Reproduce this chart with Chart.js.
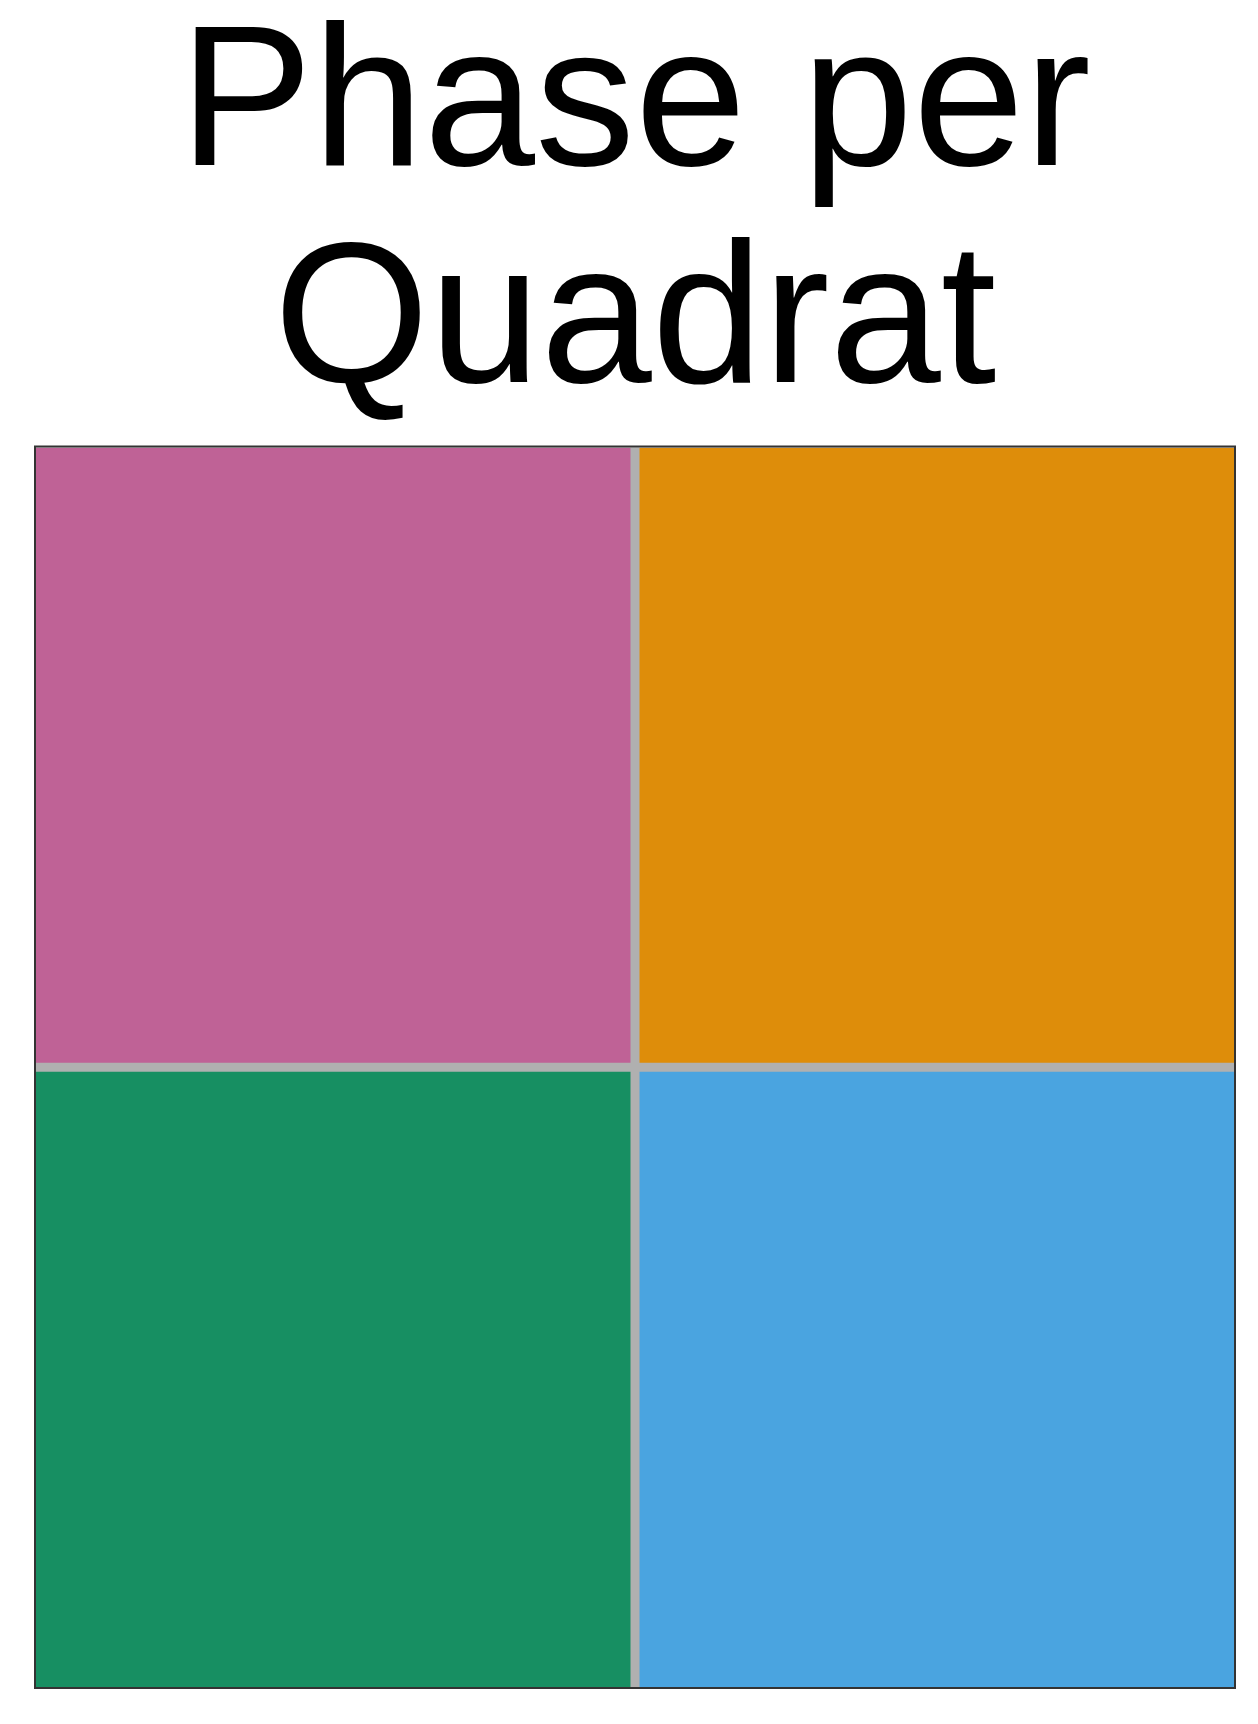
<!DOCTYPE html>
<html>
<head>
<meta charset="utf-8">
<script src="https://cdn.jsdelivr.net/npm/chart.js@4/dist/chart.umd.min.js"></script>
<style>
  html, body { margin: 0; padding: 0; background: #ffffff; }
  #wrap { width: 1258px; height: 1724px; position: relative; }
</style>
</head>
<body>
<div id="wrap"><canvas id="c"></canvas></div>
<script>
// ---- data ----
const titleLines = ['Phase per', 'Quadrat'];
const columns = ['links', 'rechts'];
const lowerRow = [1, 1];
const upperRow = [1, 1];
const lowerColors = ['#178F62', '#4AA4E0'];
const upperColors = ['#BF6296', '#DE8D0A'];
const gapColor = '#B0B0B0';
const frameColor = '#333333';

const half = 4.5;

const frame = {
  id: 'frame',
  beforeDatasetsDraw(chart) {
    const a = chart.chartArea, ctx = chart.ctx;
    ctx.save();
    ctx.fillStyle = gapColor;
    ctx.fillRect(a.left, a.top, a.right - a.left, a.bottom - a.top);
    ctx.restore();
  },
  afterDatasetsDraw(chart) {
    const a = chart.chartArea, ctx = chart.ctx;
    ctx.save();
    ctx.strokeStyle = frameColor;
    ctx.lineWidth = 2;
    ctx.strokeRect(a.left - 1, a.top - 1, a.right - a.left + 2, a.bottom - a.top + 2);
    ctx.restore();
  }
};

new Chart(document.getElementById('c'), {
  type: 'bar',
  data: {
    labels: columns,
    datasets: [
      {
        data: lowerRow,
        backgroundColor: lowerColors,
        borderColor: gapColor,
        borderSkipped: false,
        borderWidth: (ctx) => ctx.dataIndex === 0 ? {top: half, right: half, left: 0, bottom: 0} : {top: half, left: half, right: 0, bottom: 0},
        inflateAmount: 0
      },
      {
        data: upperRow,
        backgroundColor: upperColors,
        borderColor: gapColor,
        borderSkipped: false,
        borderWidth: (ctx) => ctx.dataIndex === 0 ? {bottom: half, right: half, left: 0, top: 0} : {bottom: half, left: half, right: 0, top: 0},
        inflateAmount: 0
      }
    ]
  },
  options: {
    responsive: true,
    maintainAspectRatio: false,
    devicePixelRatio: 1,
    animation: false,
    events: [],
    datasets: { bar: { categoryPercentage: 1, barPercentage: 1 } },
    layout: { padding: { left: 36, right: 24, top: 0, bottom: 37 } },
    plugins: {
      legend: { display: false },
      tooltip: { enabled: false },
      title: {
        display: true,
        text: titleLines,
        color: '#000000',
        font: { family: '"Liberation Sans", Arial, sans-serif', size: 200, weight: 'normal', lineHeight: 1.085 },
        padding: { top: 1.5, bottom: 12 }
      }
    },
    scales: {
      x: { stacked: true, display: false, grid: { display: false } },
      y: { stacked: true, display: false, min: 0, max: 2, grid: { display: false } }
    }
  },
  plugins: [frame]
});
</script>
</body>
</html>
